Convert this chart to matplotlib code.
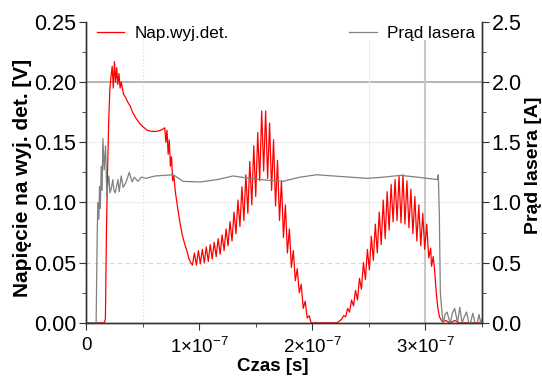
import matplotlib
matplotlib.use("Agg")
import matplotlib.pyplot as plt
from matplotlib.ticker import MultipleLocator

plt.rcParams['font.family'] = ['Liberation Sans', 'DejaVu Sans']
plt.rcParams['mathtext.default'] = 'regular'

# Napiecie na wyjsciu detektora: czas [ns], napiecie [V]
det_t_ns = [
    0.0, 16.0, 17.0, 18.0, 19.0, 20.0, 21.0, 22.0, 23.0, 24.0, 25.0, 26.0,
    27.0, 28.0, 29.0, 30.0, 31.0, 33.0, 35.0, 37.0, 39.0, 41.0, 44.0, 47.0,
    50.0, 54.0, 58.0, 62.0, 66.0, 68.0, 69.5, 70.5, 71.5, 72.5, 73.5, 74.5,
    75.5, 76.5, 77.5, 79.0, 81.0, 83.0, 85.0, 87.0, 89.0, 91.0, 92.5,
    94.0, 95.75, 97.5, 99.25, 101.0, 102.75, 104.5, 106.25, 108.0, 109.75,
    111.5, 113.25, 115.0, 116.75, 118.5, 120.25, 122.0, 123.75, 125.5, 127.25,
    129.0, 130.75, 132.5, 134.25, 136.0, 137.75, 139.5, 141.25, 143.0, 144.75,
    146.5, 148.25, 150.0, 151.75, 153.5, 155.25, 157.0, 158.75, 160.5, 162.25,
    164.0, 165.75, 167.5, 169.25, 171.0, 172.75, 174.5, 176.25, 178.0, 179.75,
    181.5, 183.25, 185.0, 186.75, 188.5, 190.25, 192.0, 193.75, 195.5, 197.25,
    199.0, 210.0, 222.0,
    226.0, 227.75, 229.5, 231.25, 233.0, 234.75, 236.5, 238.25, 240.0, 241.75,
    243.5, 245.25, 247.0, 248.75, 250.5, 252.25, 254.0, 255.75, 257.5, 259.25,
    261.0, 262.75, 264.5, 266.25, 268.0, 269.75, 271.5, 273.25, 275.0, 276.75,
    278.5, 280.25, 282.0, 283.75, 285.5, 287.25, 289.0, 290.75, 292.5, 294.25,
    296.0, 297.75, 299.5, 301.25, 303.0, 304.75,
    305.5, 307.0, 308.2, 309.7, 311.0, 312.5, 315.0, 318.0, 322.0, 326.0,
    330.0, 350.0,
]
det_v = [
    0.0, 0.0, 0.003, 0.08, 0.13, 0.17, 0.195, 0.205, 0.213, 0.195, 0.217, 0.200,
    0.212, 0.198, 0.207, 0.195, 0.200, 0.190, 0.187, 0.183, 0.180, 0.175, 0.170, 0.166,
    0.163, 0.160, 0.159, 0.159, 0.160, 0.161, 0.162, 0.150, 0.160, 0.140, 0.152, 0.130,
    0.138, 0.118, 0.122, 0.108, 0.095, 0.083, 0.073, 0.066, 0.060, 0.053, 0.050,
    0.048, 0.058, 0.048, 0.060, 0.049, 0.061, 0.050, 0.063, 0.051, 0.065,
    0.053, 0.067, 0.055, 0.070, 0.057, 0.073, 0.060, 0.078, 0.064, 0.084,
    0.068, 0.092, 0.074, 0.102, 0.080, 0.113, 0.085, 0.123, 0.091, 0.134,
    0.098, 0.147, 0.105, 0.158, 0.118, 0.176, 0.126, 0.176, 0.120, 0.166,
    0.110, 0.152, 0.097, 0.135, 0.085, 0.118, 0.071, 0.098, 0.058, 0.078,
    0.046, 0.060, 0.035, 0.045, 0.025, 0.032, 0.012, 0.018, 0.004, 0.006,
    0.0, 0.0, 0.0,
    0.003, 0.006, 0.005, 0.012, 0.009, 0.019, 0.014, 0.027, 0.019, 0.037,
    0.028, 0.050, 0.036, 0.061, 0.044, 0.072, 0.052, 0.082, 0.058, 0.092,
    0.065, 0.102, 0.070, 0.109, 0.077, 0.115, 0.084, 0.119, 0.085, 0.122,
    0.083, 0.123, 0.082, 0.118, 0.079, 0.111, 0.074, 0.105, 0.068, 0.098,
    0.064, 0.091, 0.061, 0.082, 0.054, 0.062,
    0.047, 0.055, 0.044, 0.025, 0.013, 0.005, 0.001, 0.002, 0.0, 0.002,
    0.0, 0.0,
]

# Prad lasera: czas [ns], prad [A]
laser_t_ns = [
    0.0, 8.8, 9.7, 10.3, 11.2, 11.8, 12.5, 13.3, 14.1, 14.8, 15.9, 17.1,
    18.3, 19.2, 20.1, 21.0, 22.1, 23.6, 24.5, 25.7, 28.1, 29.2, 31.0, 32.7,
    35.4, 38.1, 40.7, 42.5, 45.8, 48.7, 53.1, 56.6, 61.1, 77.0, 85.8, 100.9,
    116.0, 130.0, 145.0, 160.0, 174.0, 189.0, 204.0, 218.6, 233.6, 248.7,
    262.8, 277.9, 293.0, 310.6, 311.5, 312.4, 313.3, 314.8, 315.9, 317.5,
    319.2, 320.7, 322.1, 324.0, 326.0, 328.5, 330.5, 332.5, 334.5, 336.5,
    338.5, 340.0, 342.0, 344.0, 346.0, 347.5, 349.0, 350.0,
]
laser_i = [
    0.0, 0.0, 0.70, 1.00, 0.86, 1.13, 0.95, 1.30, 1.10, 1.53, 1.27, 1.47,
    1.05, 1.15, 1.22, 1.08, 1.11, 1.19, 1.10, 1.08, 1.19, 1.09, 1.22, 1.125,
    1.17, 1.25, 1.17, 1.21, 1.175, 1.21, 1.20, 1.21, 1.22, 1.23, 1.175, 1.17,
    1.19, 1.22, 1.20, 1.185, 1.175, 1.21, 1.23, 1.22, 1.21, 1.20,
    1.21, 1.225, 1.21, 1.19, 1.23, 0.90, 0.25, 0.08, 0.0, 0.07,
    0.09, 0.04, 0.0, 0.08, 0.12, 0.0, 0.13, 0.0, 0.05, 0.09,
    0.0, 0.0, 0.08, 0.0, 0.0, 0.07, 0.0, 0.03,
]

x_ticks = [0, 1e-7, 2e-7, 3e-7]
x_tick_labels = ["0", "1×10$^{-7}$", "2×10$^{-7}$", "3×10$^{-7}$"]

det_t = [t * 1e-9 for t in det_t_ns]
laser_t = [t * 1e-9 for t in laser_t_ns]

fig = plt.figure(figsize=(5.42, 3.83), dpi=100)
ax = fig.add_axes([0.159, 0.157, 0.730, 0.786])
ax2 = ax.twinx()

# linie siatki (pionowe urwane pod legenda)
ax.axhline(0.20, color='#a8a8a8', lw=1.2, zorder=0)
ax.axhline(0.15, color='#eeeeee', lw=0.8, zorder=0)
ax.axhline(0.10, color='#eeeeee', lw=0.8, zorder=0)
ax.axhline(0.05, color='#d8d8d8', lw=0.8, ls=(0, (4, 3)), zorder=0)
ax.axvline(0.5e-7, ymax=0.965, color='#d8d8d8', lw=0.8, ls=(0, (1, 2)), zorder=0)
ax.axvline(2.5e-7, ymax=0.935, color='#ececec', lw=0.8, zorder=0)
ax.axvline(3e-7, ymax=0.935, color='#c8c8c8', lw=1.5, zorder=0)

l1, = ax.plot(det_t, det_v, color='#ff0000', lw=0.9, label='Nap.wyj.det.')
l2, = ax2.plot(laser_t, laser_i, color='#808080', lw=0.9, label='Prąd lasera')

ax.set_xlim(0, 3.5e-7)
ax.set_ylim(0, 0.25)
ax2.set_ylim(0, 2.5)

ax.set_xticks(x_ticks)
ax.set_xticklabels(x_tick_labels)
ax.xaxis.set_minor_locator(MultipleLocator(0.5e-7))
ax.yaxis.set_major_locator(MultipleLocator(0.05))
ax.yaxis.set_minor_locator(MultipleLocator(0.025))
ax.yaxis.set_major_formatter(plt.FormatStrFormatter('%.2f'))
ax2.yaxis.set_major_locator(MultipleLocator(0.5))
ax2.yaxis.set_minor_locator(MultipleLocator(0.25))
ax2.yaxis.set_major_formatter(plt.FormatStrFormatter('%.1f'))

for a in (ax, ax2):
    a.spines['top'].set_visible(False)
    for s in a.spines.values():
        s.set_color('#333333')
        s.set_linewidth(1.0)
    a.tick_params(which='both', direction='out', color='#333333')
    a.tick_params(which='major', length=5)
    a.tick_params(which='minor', length=3)

ax.tick_params(axis='y', labelsize=15.5, pad=2)
ax.tick_params(axis='x', labelsize=13.5, pad=5)
ax2.tick_params(axis='y', labelsize=15.5, pad=2)

ax.set_xlabel('Czas [s]', fontsize=13.5, fontweight='bold')
ax.xaxis.set_label_coords(0.472, -0.117)
ax.set_ylabel('Napięcie na wyj. det. [V]', fontsize=15, fontweight='bold')
ax.yaxis.set_label_coords(-0.137, 0.48)
ax2.set_ylabel('Prąd lasera [A]', fontsize=14, fontweight='bold')
ax2.yaxis.set_label_coords(1.11, 0.523)

leg1 = ax2.legend(handles=[l1], loc='upper left', bbox_to_anchor=(0.01, 1.01),
                  fontsize=12.3, frameon=False, handlelength=1.6,
                  handletextpad=0.6, borderpad=0.3, borderaxespad=0.1)
ax2.add_artist(leg1)
ax2.legend(handles=[l2], loc='upper right', bbox_to_anchor=(1.0, 1.01),
           fontsize=12.3, frameon=False, handlelength=1.6,
           handletextpad=0.6, borderpad=0.3, borderaxespad=0.1)

fig.savefig('out.png', dpi=100)
